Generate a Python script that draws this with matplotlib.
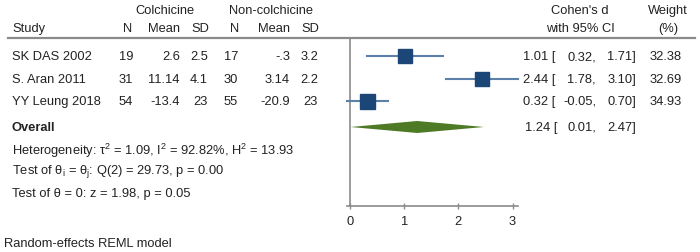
import matplotlib.pyplot as plt
import numpy as np
from matplotlib.patches import Polygon

plt.rcParams['font.family'] = ['Liberation Sans', 'DejaVu Sans']
plt.rcParams['mathtext.fontset'] = 'custom'
plt.rcParams['mathtext.rm'] = 'Liberation Sans'
plt.rcParams['mathtext.it'] = 'Liberation Sans:italic'

# data
studies = ['SK DAS 2002', 'S. Aran 2011', 'YY Leung 2018']
n_col = ['19', '31', '54']
mean_col = ['2.6', '11.14', '-13.4']
sd_col = ['2.5', '4.1', '23']
n_non = ['17', '30', '55']
mean_non = ['-.3', '3.14', '-20.9']
sd_non = ['3.2', '2.2', '23']
d = [1.01, 2.44, 0.32]
lo = [0.32, 1.78, -0.05]
hi = [1.71, 3.10, 0.70]
weight = [32.38, 32.69, 34.93]
overall = (1.24, 0.01, 2.47)
het_txt = 'Heterogeneity: τ$^2$ = 1.09, I$^2$ = 92.82%, H$^2$ = 13.93'
q_txt = 'Test of θ$_\\mathrm{i}$ = θ$_\\mathrm{j}$: Q(2) = 29.73, p = 0.00'
z_txt = 'Test of θ = 0: z = 1.98, p = 0.05'
model_txt = 'Random-effects REML model'
xticks = [0, 1, 2, 3]

W, H = 700, 253
fig = plt.figure(figsize=(7, 2.53), dpi=100)
fig.patch.set_facecolor('white')
fs = 9.3
tc = '#222222'
navy = '#1b4677'
ci_col = '#5b80aa'
green = '#4e7a26'
gray = '#8a8a8a'

def txt(x, y, s, ha='left', **kw):
    fig.text(x / W, 1 - y / H, s, ha=ha, va='center', fontsize=fs, color=tc, **kw)

# header
txt(165, 11, 'Colchicine', 'center')
txt(271, 11, 'Non-colchicine', 'center')
txt(12, 29, 'Study')
for x, s in [(128, 'N'), (164, 'Mean'), (200, 'SD'), (235, 'N'), (274, 'Mean'), (310, 'SD')]:
    txt(x, 29, s, 'center')
txt(580, 11, "Cohen's d", 'center')
txt(580, 29, 'with 95% CI', 'center')
txt(668, 11, 'Weight', 'center')
txt(668, 29, '(%)', 'center')
fig.add_artist(plt.Line2D([8 / W, 695 / W], [1 - 38.5 / H] * 2, color=gray, lw=1.6))

row_y = [57, 80, 102]
over_y = 128
for i, s in enumerate(studies):
    y = row_y[i]
    txt(12, y, s)
    txt(133, y, n_col[i], 'right')
    txt(180, y, mean_col[i], 'right')
    txt(208, y, sd_col[i], 'right')
    txt(238, y, n_non[i], 'right')
    txt(290, y, mean_non[i], 'right')
    txt(318, y, sd_non[i], 'right')
    txt(523, y, f'{d[i]:.2f} [')
    txt(596, y, f'{lo[i]:.2f},', 'right')
    txt(636, y, f'{hi[i]:.2f}]', 'right')
    txt(682, y, f'{weight[i]:.2f}', 'right')

txt(12, over_y, 'Overall', fontweight='bold')
txt(525, over_y, f'{overall[0]:.2f} [')
txt(596, over_y, f'{overall[1]:.2f},', 'right')
txt(636, over_y, f'{overall[2]:.2f}]', 'right')
txt(12, 151, het_txt)
txt(12, 172, q_txt)
txt(12, 194, z_txt)
txt(4, 244, model_txt)

# forest axes
x0, x1 = -0.05, 3.1
px0, px1 = 350 + x0 * 54.2, 350 + x1 * 54.2
top, bot = 40, 207
ax = fig.add_axes([px0 / W, 1 - bot / H, (px1 - px0) / W, (bot - top) / H])
ax.set_xlim(x0, x1)
ax.set_ylim(bot, top)
ax.patch.set_alpha(0)
for sp in ['top', 'right', 'left']:
    ax.spines[sp].set_visible(False)
ax.spines['bottom'].set_color(gray)
ax.spines['bottom'].set_linewidth(1.2)
ax.axvline(0, color=gray, lw=1.2)
ax.set_yticks([])
ax.set_xticks(xticks)
ax.tick_params(axis='x', direction='inout', length=5, width=1, color=gray,
               labelsize=fs, labelcolor=tc, pad=4)

for i in range(len(d)):
    y = row_y[i]
    ax.plot([lo[i], hi[i]], [y, y], color=ci_col, lw=1.5, clip_on=False)
    ms = 10.8 * np.sqrt(weight[i] / max(weight))
    ax.plot(d[i], y, marker='s', ms=ms, color=navy, mec=navy, clip_on=False)

dh = 6
ax.add_patch(Polygon([[overall[1], over_y], [overall[0], over_y - dh],
                      [overall[2], over_y], [overall[0], over_y + dh]],
                     closed=True, color=green, lw=0))

fig.savefig('out.png', dpi=100, facecolor='white')
